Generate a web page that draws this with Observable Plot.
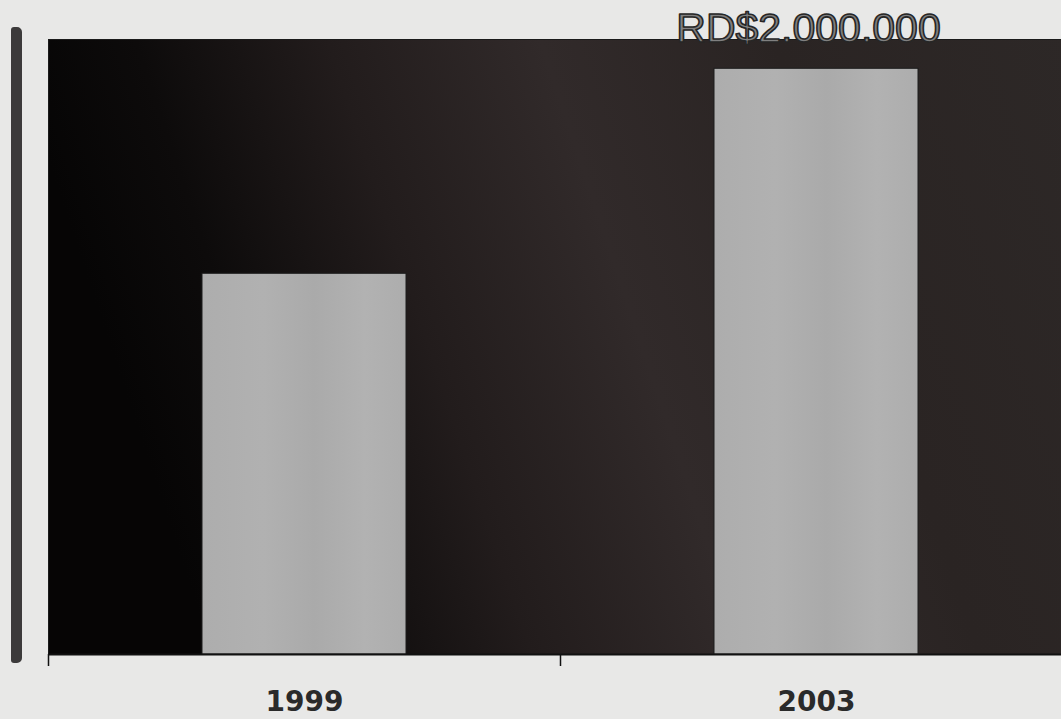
<!DOCTYPE html>
<html>
<head>
<meta charset="utf-8">
<script src="https://cdn.jsdelivr.net/npm/d3@7"></script>
<script src="https://cdn.jsdelivr.net/npm/@observablehq/plot@0.6"></script>
<style>
  html, body { margin: 0; padding: 0; background: #e8e8e7; }
  #wrap { position: relative; width: 1061px; height: 719px; overflow: hidden; }
  #sidebar { position: absolute; left: 11px; top: 27px; width: 11px; height: 636px;
             background: #3c3a3b; border-radius: 3px 5px 5px 3px; }
  #chart { position: absolute; left: 0; top: 0; }
  #chart svg { overflow: hidden; }
</style>
</head>
<body>
<div id="wrap">
  <div id="sidebar"></div>
  <div id="chart"></div>
</div>
<script>
const years = ["1999", "2003"];
const values = [1300000, 2000000];
const valueLabels = ["", "RD$2.000.000"];

const data = years.map((year, i) => ({year, value: values[i], label: valueLabels[i]}));

const defs = () => {
  const d = d3.create("svg:defs");
  const g = d.append("linearGradient").attr("id", "bg").attr("x1", 0).attr("x2", 1).attr("y1", 0.2).attr("y2", 0);
  [[0, "#060505"], [0.12, "#0d0b0b"], [0.3, "#221c1c"], [0.5, "#312a2a"], [0.72, "#2a2423"], [1, "#2d2827"]]
    .forEach(([o, c]) => g.append("stop").attr("offset", o).attr("stop-color", c));
  const b = d.append("linearGradient").attr("id", "barfill").attr("x1", 0).attr("x2", 1).attr("y1", 0).attr("y2", 0);
  [[0, "#adadad"], [0.3, "#b1b1b1"], [0.55, "#aaaaaa"], [0.8, "#b2b2b2"], [1, "#adadad"]]
    .forEach(([o, c]) => b.append("stop").attr("offset", o).attr("stop-color", c));
  return d.node();
};

const chart = Plot.plot({
  width: 1061,
  height: 719,
  marginLeft: 48,
  marginRight: -11,
  marginTop: 39,
  marginBottom: 65,
  style: {background: "transparent"},
  x: {domain: years, padding: 0, label: null},
  y: {domain: [0, 2100000], axis: null},
  marks: [
    defs,
    Plot.frame({fill: "url(#bg)", stroke: "#1a1a1a"}),
    Plot.barY(data, {x: "year", y: "value", fill: "url(#barfill)", stroke: "#1c1c1c", strokeWidth: 1, insetLeft: 154, insetRight: 154}),
    Plot.ruleY([0], {stroke: "#111", strokeWidth: 2}),
    Plot.axisX({tickSize: 12, text: null, dx: -256, stroke: "#111", strokeWidth: 1.5}),
    Plot.axisX({tickSize: 0, tickPadding: 37, fontSize: 28, fontWeight: "bold", fontFamily: "DejaVu Sans", fill: "#2a2a2a"}),
    Plot.text(data.filter(d => d.label), {x: "year", text: "label", frameAnchor: "top", lineAnchor: "bottom", dy: 2, dx: -8,
      fontSize: 41, fontFamily: "Liberation Sans", fill: "#808080", stroke: "#262626", strokeWidth: 1.6, paintOrder: "fill"})
  ]
});
document.getElementById("chart").appendChild(chart);
</script>
</body>
</html>
